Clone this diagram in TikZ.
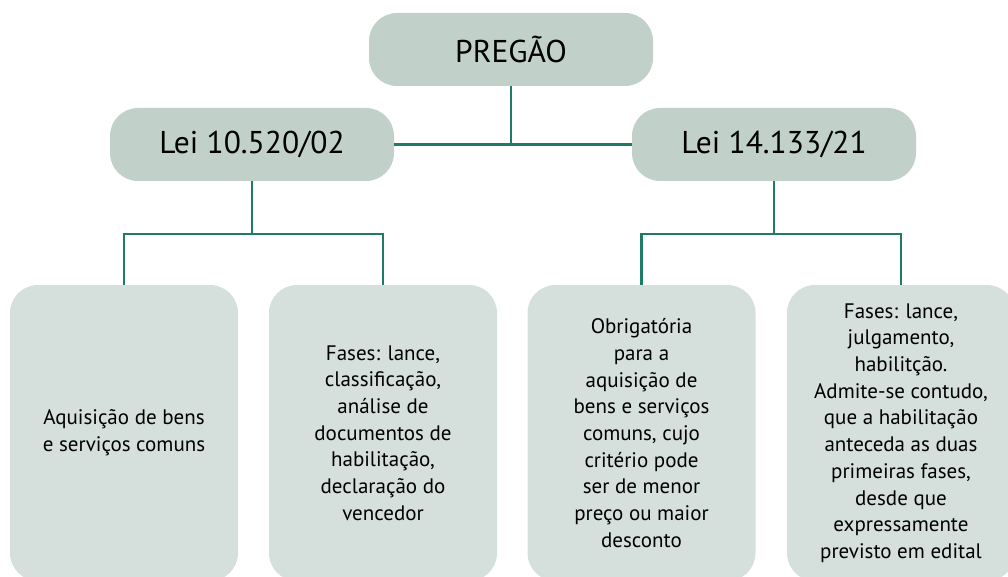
\documentclass[tikz,border=0pt]{standalone}
\usepackage{fontspec}
\setmainfont{PT Sans}
\definecolor{topfill}{HTML}{C1D1C9}
\definecolor{botfill}{HTML}{D5DFDB}
\definecolor{linecol}{HTML}{1E7B66}
\begin{document}
\begin{tikzpicture}[x=1pt,y=-1pt,
  topbox/.style={fill=topfill,draw=none,rounded corners=28pt,minimum width=284pt,minimum height=73pt,inner sep=0pt,font=\fontsize{31.5}{36}\selectfont,text=black},
  botbox/.style={fill=botfill,draw=none,rounded corners=28pt,minimum width=228pt,minimum height=296pt,inner sep=0pt,align=center,font=\fontsize{21}{26.7}\selectfont,text=black},
  conn/.style={draw=linecol,line width=2.8pt}]
\useasboundingbox (0,0) rectangle (1008,577);
\clip (0,0) rectangle (1008,577);
\node[topbox] (preg) at (511,49.5) {PREGÃO};
\node[topbox] (lei1) at (252,144.5) {Lei 10.520/02};
\node[topbox] (lei2) at (774,144.5) {Lei 14.133/21};
\node[botbox] (b1) at (124,433) {Aquisição de bens\\e serviços comuns};
\node[botbox] (b2) at (383,433) {Fases: lance,\\classificação,\\análise de\\documentos de\\habilitação,\\declaração do\\vencedor};
\node[botbox] (b3) at (641.5,433) {Obrigatória\\para a\\aquisição de\\bens e serviços\\comuns, cujo\\critério pode\\ser de menor\\preço ou maior\\desconto};
\node[botbox] (b4) at (901,433) {Fases: lance,\\julgamento,\\habilitção.\\Admite-se contudo,\\que a habilitação\\anteceda as duas\\primeiras fases,\\desde que\\expressamente\\previsto em edital};
\coordinate (j0) at (511,145);
\coordinate (j1) at (252,234);
\coordinate (j2) at (772,234);
\draw[conn] (preg.south) -- (j0);
\draw[conn] (lei1.east) -- (lei2.west);
\draw[conn] (lei1.south) -- (j1);
\draw[conn] (b1.north) -- (b1.north |- j1) -- (b2.north |- j1) -- (b2.north);
\draw[conn] (lei2.south) -- (lei2.south |- j2);
\draw[conn] (b3.north) -- (b3.north |- j2) -- (b4.north |- j2) -- (b4.north);
\end{tikzpicture}
\end{document}
